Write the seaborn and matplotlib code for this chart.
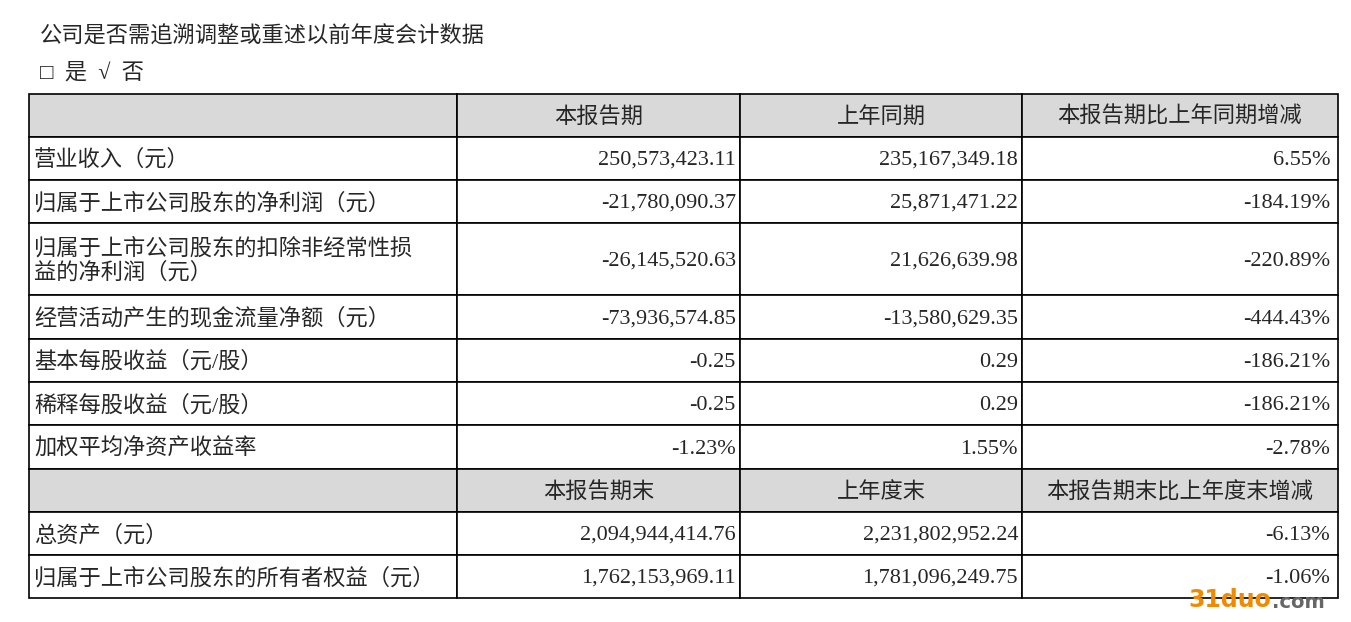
import matplotlib
matplotlib.use("Agg")
import matplotlib.pyplot as plt
import seaborn as sns
from matplotlib.patches import Rectangle

title = "公司是否需追溯调整或重述以前年度会计数据"
subtitle = "□  是  √  否"

header1 = ["", "本报告期", "上年同期", "本报告期比上年同期增减"]
header2 = ["", "本报告期末", "上年度末", "本报告期末比上年度末增减"]

items1 = [
    "营业收入（元）",
    "归属于上市公司股东的净利润（元）",
    "归属于上市公司股东的扣除非经常性损\n益的净利润（元）",
    "经营活动产生的现金流量净额（元）",
    "基本每股收益（元/股）",
    "稀释每股收益（元/股）",
    "加权平均净资产收益率",
]
current1 = ["250,573,423.11", "-21,780,090.37", "-26,145,520.63", "-73,936,574.85",
            "-0.25", "-0.25", "-1.23%"]
previous1 = ["235,167,349.18", "25,871,471.22", "21,626,639.98", "-13,580,629.35",
             "0.29", "0.29", "1.55%"]
change1 = ["6.55%", "-184.19%", "-220.89%", "-444.43%", "-186.21%", "-186.21%", "-2.78%"]

items2 = ["总资产（元）", "归属于上市公司股东的所有者权益（元）"]
current2 = ["2,094,944,414.76", "1,762,153,969.11"]
previous2 = ["2,231,802,952.24", "1,781,096,249.75"]
change2 = ["-6.13%", "-1.06%"]

col_edges = [29, 457, 740, 1022, 1338]
row_edges = [94, 137, 180, 223, 295, 339, 382, 425, 469, 512, 555, 598]

sns.set_theme(style="white")
fonts = ["Liberation Serif", "Noto Sans CJK SC", "DejaVu Sans"]
plt.rcParams["font.family"] = fonts

fig = plt.figure(figsize=(13.51, 6.22), dpi=100)
ax = fig.add_axes([0, 0, 1, 1])
ax.set_xlim(0, 1351)
ax.set_ylim(622, 0)
ax.axis("off")

rows = [header1] + [[a, b, c, d] for a, b, c, d in zip(items1, current1, previous1, change1)] \
    + [header2] + [[a, b, c, d] for a, b, c, d in zip(items2, current2, previous2, change2)]
header_rows = {0, 8}
fs_cn = 16
fs_num = 16
dy = 2  # CJK glyphs sit a little high with va=center

for r, row in enumerate(rows):
    y0, y1 = row_edges[r], row_edges[r + 1]
    ym = (y0 + y1) / 2
    for c, txt in enumerate(row):
        x0, x1 = col_edges[c], col_edges[c + 1]
        fc = "#d9d9d9" if r in header_rows else "white"
        ax.add_patch(Rectangle((x0, y0), x1 - x0, y1 - y0, facecolor=fc,
                               edgecolor="black", linewidth=1.2))
        if not txt:
            continue
        if r in header_rows:
            ax.text((x0 + x1) / 2, ym + dy, txt, ha="center", va="center", fontsize=fs_cn)
        elif c == 0:
            ax.text(x0 + 5, ym + dy, txt, ha="left", va="center", fontsize=fs_cn,
                    linespacing=1.15)
        else:
            pad = 8 if c == 3 else 4
            ax.text(x1 - pad, ym + dy, txt, ha="right", va="center", fontsize=fs_num)

ax.text(40, 37, title, ha="left", va="center", fontsize=fs_cn)
ax.text(40, 73, subtitle, ha="left", va="center", fontsize=fs_cn)

ax.text(1188, 600, "31duo", ha="left", va="center", fontsize=17, fontweight="bold",
        color="#f08a00", family="DejaVu Sans")
ax.text(1272, 602, ".com", ha="left", va="center", fontsize=14, fontweight="bold",
        color="#666666", family="DejaVu Sans")

fig.savefig("out.png", dpi=100)
